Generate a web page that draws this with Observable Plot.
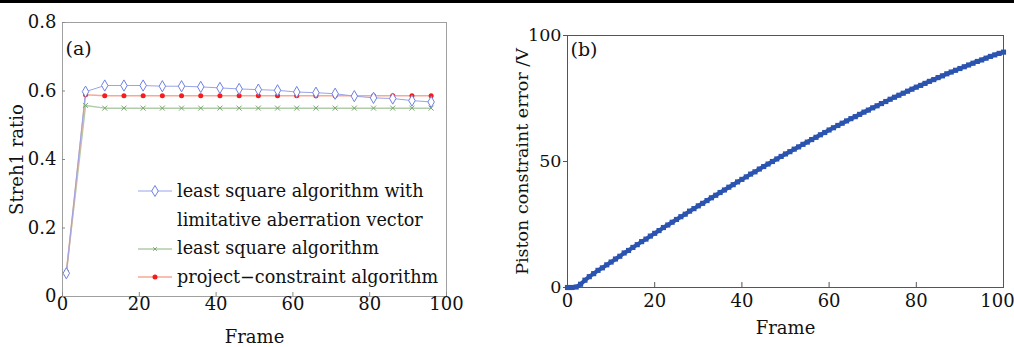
<!DOCTYPE html>
<html><head><meta charset="utf-8">
<script src="https://cdn.jsdelivr.net/npm/d3@7"></script>
<script src="https://cdn.jsdelivr.net/npm/@observablehq/plot@0.6"></script>
<style>
html,body{margin:0;padding:0;background:#fff;width:1014px;height:347px;overflow:hidden;}
#wrap{position:relative;width:1014px;height:347px;font-family:"DejaVu Serif",serif;color:#111;}
#topbar{position:absolute;left:0;top:0;width:1014px;height:3px;background:#000;}
#left{position:absolute;left:0;top:0;}
#right{position:absolute;left:500px;top:0;}
#legend{position:absolute;left:138px;top:177px;font-size:17.6px;line-height:28.7px;}
.row{height:28.7px;display:flex;align-items:center;white-space:nowrap;}
.row svg{flex:none;margin-right:5px;}
.sp{display:inline-block;width:39px;}
</style></head>
<body><div id="wrap"><div id="topbar"></div><div id="left"></div><div id="right"></div><div id="legend"></div></div>
<script>
// ---- Panel (a) data ----
const framesA = [1,6,11,16,21,26,31,36,41,46,51,56,61,66,71,76,81,86,91,96];
const lsLimited = [0.068,0.598,0.616,0.616,0.616,0.614,0.614,0.612,0.609,0.606,0.604,0.602,0.597,0.595,0.592,0.585,0.580,0.578,0.572,0.568];
const lsPlain   = [0.070,0.558,0.550,0.550,0.550,0.550,0.550,0.550,0.550,0.550,0.550,0.550,0.550,0.550,0.550,0.550,0.550,0.550,0.550,0.550];
const projC     = [0.070,0.589,0.586,0.586,0.586,0.586,0.586,0.586,0.586,0.586,0.586,0.586,0.586,0.586,0.586,0.586,0.586,0.586,0.586,0.586];
const seriesNames = ["least square algorithm with limitative aberration vector","least square algorithm","project\u2212constraint algorithm"];
const xTicks = [0,20,40,60,80,100];
const yTicksA = [0,0.2,0.4,0.6,0.8];

// ---- Panel (b) data ----
const framesB = [0,1,2,3,4,5,6,7,8,9,10,11,12,13,14,15,16,17,18,19,20,21,22,23,24,25,26,27,28,29,30,31,32,33,34,35,36,37,38,39,40,41,42,43,44,45,46,47,48,49,50,51,52,53,54,55,56,57,58,59,60,61,62,63,64,65,66,67,68,69,70,71,72,73,74,75,76,77,78,79,80,81,82,83,84,85,86,87,88,89,90,91,92,93,94,95,96,97,98,99,100];
const pistonErr = [0,0,0.2,1.3,2.9,4.3,5.5,6.8,7.8,9.0,10.1,11.3,12.4,13.7,14.7,15.9,17.0,18.2,19.2,20.4,21.5,22.6,23.8,24.8,25.9,27.0,28.1,29.1,30.3,31.3,32.4,33.4,34.5,35.6,36.6,37.7,38.7,39.8,40.8,41.9,42.9,43.9,45.0,45.9,47.0,48.0,49.0,50.0,51.0,52.0,53.0,53.9,54.9,55.8,56.8,57.7,58.7,59.6,60.6,61.5,62.5,63.4,64.3,65.2,66.1,67.0,67.8,68.7,69.6,70.4,71.3,72.1,73.0,73.8,74.7,75.5,76.3,77.1,77.9,78.7,79.5,80.2,81.0,81.8,82.5,83.3,84.0,84.8,85.5,86.2,86.9,87.6,88.3,89.0,89.7,90.3,91.0,91.7,92.3,92.9,93.4];
const yTicksB = [0,50,100];

const colBlue = "#6f80e4", colBlueLine = "#98a4ea";
const colGreen = "#78a870", colGreenLine = "#b0cca8";
const colRed = "#f41c1c", colRedLine = "#f5aa95";
const colB = "#2b54b0";

const A1 = framesA.map((f,i)=>({frame:f, v:lsLimited[i]}));
const A2 = framesA.map((f,i)=>({frame:f, v:lsPlain[i]}));
const A3 = framesA.map((f,i)=>({frame:f, v:projC[i]}));
const B = framesB.map((f,i)=>({frame:f, v:pistonErr[i]}));

const fmtA = d => d === 0 ? "0" : d.toFixed(1);
const baseStyle = {fontFamily:"'DejaVu Serif', serif", fontSize:"18px", color:"#111", background:"transparent", overflow:"visible"};

const left = Plot.plot({
  width:460, height:347, marginLeft:62, marginRight:14, marginTop:22, marginBottom:51,
  x:{domain:[0,100]}, y:{domain:[0,0.8]},
  style: baseStyle,
  marks:[
    Plot.frame({stroke:"#a0a0a0"}),
    Plot.axisX(xTicks,{tickSize:-4, stroke:"#888", tickFormat:()=>"", label:null}),
    Plot.axisX(xTicks,{tickSize:0, tickPadding:1, label:"Frame", labelAnchor:"center", labelOffset:46, labelArrow:"none", fontSize:18}),
    Plot.axisY(yTicksA,{tickSize:-3, stroke:"#888", tickFormat:()=>"", label:null}),
    Plot.axisY(yTicksA,{tickSize:0, tickPadding:6, tickFormat:fmtA, label:"Streh1 ratio", labelAnchor:"center", labelOffset:52, labelArrow:"none", fontSize:18}),
    Plot.line(A2,{x:"frame", y:"v", stroke:colGreenLine, strokeWidth:1.5}),
    Plot.line(A3,{x:"frame", y:"v", stroke:colRedLine, strokeWidth:1.5}),
    Plot.line(A1,{x:"frame", y:"v", stroke:colBlueLine, strokeWidth:1}),
    Plot.dot(A2,{x:"frame", y:"v", symbol:"times", r:2.4, stroke:colGreen, strokeWidth:1}),
    Plot.dot(A3,{x:"frame", y:"v", r:2.5, fill:colRed, stroke:"none"}),
    Plot.dot(A1,{x:"frame", y:"v", symbol:"diamond", r:3.4, stroke:colBlue, fill:"white", strokeWidth:1}),
    Plot.text(["(a)"],{frameAnchor:"top-left", dx:3, dy:19, fontSize:19, textAnchor:"start"})
  ]
});
document.getElementById("left").appendChild(left);

const xTicksBmain = xTicks.filter(d => d < 100);
const xTicksBlast = xTicks.filter(d => d >= 100);
const right = Plot.plot({
  width:514, height:347, marginLeft:67, marginRight:11, marginTop:35, marginBottom:60,
  x:{domain:[0,100]}, y:{domain:[0,100]},
  style: baseStyle,
  marks:[
    Plot.frame({stroke:"#555"}),
    Plot.axisX(xTicks,{tickSize:-5, stroke:"#555", tickFormat:()=>"", label:null}),
    Plot.axisX(xTicksBmain,{tickSize:0, tickPadding:7, label:"Frame", labelAnchor:"center", labelOffset:46, labelArrow:"none", fontSize:18}),
    Plot.axisX(xTicksBlast,{tickSize:0, tickPadding:7, label:null, dx:-6, fontSize:18}),
    Plot.axisY(yTicksB,{tickSize:4, stroke:"#555", tickPadding:2, label:"Piston constraint error /V", labelAnchor:"center", labelOffset:52, labelArrow:"none", fontSize:17.5}),
    Plot.line(B,{x:"frame", y:"v", stroke:colB, strokeWidth:4}),
    Plot.dot(B,{x:"frame", y:"v", symbol:"square", r:2.9, fill:colB, stroke:"none"}),
    Plot.text(["(b)"],{frameAnchor:"top-left", dx:3, dy:7, fontSize:19, textAnchor:"start"})
  ]
});
document.getElementById("right").appendChild(right);

// ---- legend (HTML) ----
function symSvg(kind){
  const w=34,h=14, cy=7;
  let s = `<svg width="${w}" height="${h}" viewBox="0 0 ${w} ${h}">`;
  if(kind===0){ s+=`<line x1="0" x2="${w}" y1="${cy}" y2="${cy}" stroke="${colBlueLine}" stroke-width="1"/><path d="M17,1.5 L20.3,7 L17,12.5 L13.7,7Z" fill="white" stroke="${colBlue}"/>`; }
  if(kind===1){ s+=`<line x1="0" x2="${w}" y1="${cy}" y2="${cy}" stroke="${colGreenLine}" stroke-width="1.5"/><path d="M15.2,5.2 L18.8,8.8 M18.8,5.2 L15.2,8.8" stroke="${colGreen}"/>`; }
  if(kind===2){ s+=`<line x1="0" x2="${w}" y1="${cy}" y2="${cy}" stroke="${colRedLine}" stroke-width="1.5"/><circle cx="17" cy="7" r="2.5" fill="${colRed}"/>`; }
  return s+"</svg>";
}
const lg = document.getElementById("legend");
lg.innerHTML =
  `<div class="row">${symSvg(0)}<span>least square algorithm with</span></div>`+
  `<div class="row"><span class="sp"></span><span>limitative aberration vector</span></div>`+
  `<div class="row">${symSvg(1)}<span>${seriesNames[1]}</span></div>`+
  `<div class="row">${symSvg(2)}<span>${seriesNames[2]}</span></div>`;
</script>
</body></html>
